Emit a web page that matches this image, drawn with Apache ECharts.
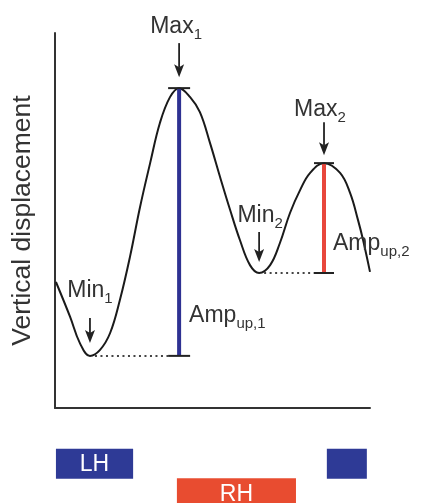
<!DOCTYPE html>
<html>
<head>
<meta charset="utf-8">
<script src="https://cdn.jsdelivr.net/npm/echarts@6/dist/echarts.min.js"></script>
<style>
html,body{margin:0;padding:0;background:#ffffff;}
#c{width:424px;height:503px;}
</style>
</head>
<body>
<div id="c"></div>
<script>
// ---- Data (time in % of trace, displacement in % of axis) ----
const curveTime = [0.3, 4.8, 7.9, 11.1, 14.3, 17.5, 20.6, 23.8, 27.0, 30.2, 33.3, 36.5, 39.4,
                   42.9, 46.0, 49.2, 52.4, 55.6, 58.7, 61.9, 64.8, 68.3, 71.4, 74.6, 77.8, 81.0,
                   85.4, 90.5, 93.7, 96.2, 97.8, 100.0];
const curveDisp = [33.6, 24.3, 17.3, 13.9, 15.5, 20.0, 28.8, 40.3, 53.6, 65.3, 76.0, 82.9, 85.3,
                   82.9, 78.9, 70.7, 61.6, 52.8, 44.8, 38.1, 36.0, 38.1, 44.0, 52.0, 58.1, 62.7,
                   65.3, 62.7, 57.3, 50.1, 44.8, 36.3];

const yAxisName = 'Vertical displacement';
const ampPrefix = 'Amp';
const ampSubPrefix = 'up,';

// Hand phases shown under the trace
const handRows = ['LH', 'RH'];
const handRow = ['LH', 'LH', 'RH'];
const handStart = [0.3, 86.3, 38.7];
const handEnd = [24.8, 99.0, 76.5];
const handText = ['LH', '', 'RH'];

// ---- Styles ----
const FONT = '"Liberation Sans", Arial, Helvetica, sans-serif';
const TEXT_COLOR = '#333333';
const INK = '#222222';
const BLUE = '#2e3192';
const RED = '#e8473c';
const BAR_BLUE = '#2e3a96';
const BAR_RED = '#e84c30';
const RICH = {
  m: { fontSize: 23, fontFamily: FONT, fill: TEXT_COLOR, verticalAlign: 'top', lineHeight: 27 },
  s: { fontSize: 15, fontFamily: FONT, fill: TEXT_COLOR, verticalAlign: 'bottom' }
};
const BASE_TO_TOP = 18; // px from block top to main baseline
// per-extremum arrow/label layout (px)
const arrowStyle = [
  { gap: 13, len: 25, textGap: 21, dx: 0 },
  { gap: 11, len: 34, textGap: 10, dx: -3 },
  { gap: 11, len: 30, textGap: 10, dx: 1 },
  { gap: 8,  len: 33, textGap: 6,  dx: -4 }
];
const ampStyle = [
  { color: BLUE, cap: 11, dx: 10, rise: 34 },
  { color: RED,  cap: 10, dx: 9,  rise: 23 }
];

// ---- Derived: extrema and up-amplitudes ----
const extrema = [];
const counts = { Min: 0, Max: 0 };
for (let i = 1; i < curveDisp.length - 1; i++) {
  const p = curveDisp[i - 1], c = curveDisp[i], n = curveDisp[i + 1];
  let kind = null;
  if (c < p && c <= n) kind = 'Min';
  else if (c > p && c >= n) kind = 'Max';
  if (kind) { counts[kind]++; extrema.push({ i, kind, sub: String(counts[kind]) }); }
}
const amps = [];
let lastMin = null;
extrema.forEach(e => {
  if (e.kind === 'Min') lastMin = e;
  else if (lastMin) {
    amps.push({ xMin: curveTime[lastMin.i], yMin: curveDisp[lastMin.i],
                xMax: curveTime[e.i], yMax: curveDisp[e.i], label: ampSubPrefix + (amps.length + 1) });
  }
});

const chart = echarts.init(document.getElementById('c'), null, { renderer: 'canvas' });

const hiddenValueAxis = (idx, min, max) => ({
  type: 'value', gridIndex: idx, min, max, show: false
});

chart.setOption({
  backgroundColor: '#ffffff',
  animation: false,
  grid: [
    { left: 55, right: 54, top: 33, bottom: 95, containLabel: false, outerBoundsMode: 'none' },
    { left: 55, right: 54, top: 449, height: 59, containLabel: false, outerBoundsMode: 'none' }
  ],
  xAxis: [
    {
      type: 'value', gridIndex: 0, min: 0, max: 100,
      axisLine: { show: true, onZero: false, lineStyle: { color: '#333', width: 2 } },
      axisTick: { show: false }, axisLabel: { show: false }, splitLine: { show: false }
    },
    hiddenValueAxis(1, 0, 100)
  ],
  yAxis: [
    {
      type: 'value', gridIndex: 0, min: 0, max: 100,
      name: yAxisName, nameLocation: 'middle', nameGap: 19,
      nameTextStyle: { fontSize: 26.5, color: TEXT_COLOR, fontFamily: FONT },
      axisLine: { show: true, onZero: false, lineStyle: { color: '#333', width: 2 } },
      axisTick: { show: false }, axisLabel: { show: false }, splitLine: { show: false }
    },
    { type: 'category', gridIndex: 1, data: handRows, inverse: true, show: false }
  ],
  series: [
    {
      name: 'trace', type: 'line', xAxisIndex: 0, yAxisIndex: 0,
      data: curveTime.map((t, k) => [t, curveDisp[k]]),
      smooth: 0.4, symbol: 'none',
      lineStyle: { color: '#1a1a1a', width: 2 }, z: 3
    },
    {
      name: 'amplitudes', type: 'custom', xAxisIndex: 0, yAxisIndex: 0, z: 4,
      data: amps.map(a => [a.xMax, a.yMax]),
      encode: { x: 0, y: 1 },
      renderItem: (params, api) => {
        const a = amps[params.dataIndex];
        const st = ampStyle[params.dataIndex];
        const top = api.coord([a.xMax, a.yMax]);
        const bot = api.coord([a.xMax, a.yMin]);
        const mn = api.coord([a.xMin, a.yMin]);
        return {
          type: 'group',
          children: [
            { type: 'line', shape: { x1: mn[0] + 5, y1: bot[1], x2: bot[0] - st.cap, y2: bot[1] },
              style: { stroke: '#444', lineWidth: 2, lineDash: [2, 3.5] } },
            { type: 'line', shape: { x1: top[0], y1: top[1], x2: bot[0], y2: bot[1] },
              style: { stroke: st.color, lineWidth: 4 } },
            { type: 'line', shape: { x1: top[0] - st.cap, y1: top[1], x2: top[0] + st.cap, y2: top[1] },
              style: { stroke: INK, lineWidth: 2 } },
            { type: 'line', shape: { x1: bot[0] - st.cap, y1: bot[1], x2: bot[0] + st.cap, y2: bot[1] },
              style: { stroke: INK, lineWidth: 2 } },
            { type: 'text', x: bot[0] + st.dx, y: bot[1] - st.rise - BASE_TO_TOP,
              style: { text: '{m|' + ampPrefix + '}{s|' + a.label + '}', rich: RICH,
                       align: 'left', verticalAlign: 'top', fill: TEXT_COLOR } }
          ]
        };
      }
    },
    {
      name: 'extrema', type: 'custom', xAxisIndex: 0, yAxisIndex: 0, z: 5,
      data: extrema.map(e => [curveTime[e.i], curveDisp[e.i]]),
      encode: { x: 0, y: 1 },
      renderItem: (params, api) => {
        const e = extrema[params.dataIndex];
        const st = arrowStyle[params.dataIndex];
        const p = api.coord([api.value(0), api.value(1)]);
        const tipY = p[1] - st.gap;
        const topY = tipY - st.len;
        const headL = 13, headW = 10;
        return {
          type: 'group',
          children: [
            { type: 'line', shape: { x1: p[0], y1: topY, x2: p[0], y2: tipY - headL + 3 },
              style: { stroke: INK, lineWidth: 1.8 } },
            { type: 'polygon',
              shape: { points: [[p[0] - headW / 2, tipY - headL], [p[0], tipY - headL + 3],
                                [p[0] + headW / 2, tipY - headL], [p[0], tipY]] },
              style: { fill: INK } },
            { type: 'text', x: p[0] + st.dx, y: topY - st.textGap - BASE_TO_TOP,
              style: { text: '{m|' + e.kind + '}{s|' + e.sub + '}', rich: RICH,
                       align: 'center', verticalAlign: 'top', fill: TEXT_COLOR } }
          ]
        };
      }
    },
    {
      name: 'hands', type: 'custom', xAxisIndex: 1, yAxisIndex: 1,
      data: handStart.map((s, k) => [s, handEnd[k], handRows.indexOf(handRow[k])]),
      encode: { x: [0, 1], y: 2 },
      renderItem: (params, api) => {
        const k = params.dataIndex;
        const s = api.coord([api.value(0), api.value(2)]);
        const e = api.coord([api.value(1), api.value(2)]);
        const h = 30;
        const color = handRow[k] === 'LH' ? BAR_BLUE : BAR_RED;
        return {
          type: 'group',
          children: [
            { type: 'rect', shape: { x: s[0], y: s[1] - h / 2, width: e[0] - s[0], height: h },
              style: { fill: color } },
            { type: 'text', x: (s[0] + e[0]) / 2, y: s[1] + 1,
              style: { text: handText[k], fontSize: 23, fontFamily: FONT, fill: '#ffffff',
                       align: 'center', verticalAlign: 'middle' } }
          ]
        };
      }
    }
  ]
});
</script>
</body>
</html>
